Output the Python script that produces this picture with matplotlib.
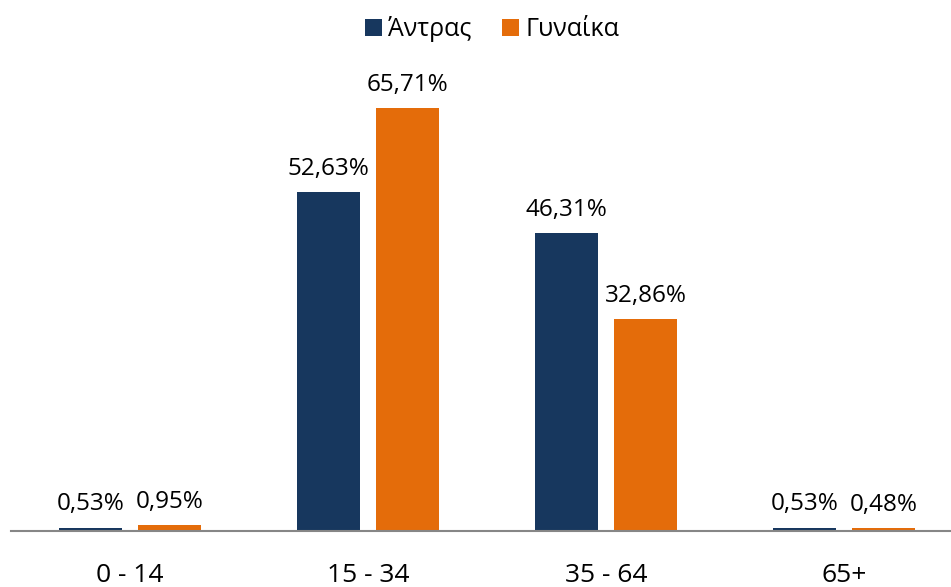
import matplotlib

matplotlib.use("Agg")
from matplotlib import pyplot as plt
import numpy as np

# chart data
age_groups = ["0 - 14", "15 - 34", "35 - 64", "65+"]
men = [0.53, 52.63, 46.31, 0.53]
women = [0.95, 65.71, 32.86, 0.48]
series_names = ["Άντρας", "Γυναίκα"]

NAVY = "#17375E"
ORANGE = "#E46C0A"

plt.rcParams["font.family"] = ["Open Sans", "DejaVu Sans"]

fig = plt.figure(figsize=(9.51, 5.87), dpi=100)
ax = fig.add_axes([11 / 951, 56 / 587, 952 / 951, 451 / 587])

x = np.arange(len(age_groups))
width = 0.265
offset = 0.166

b1 = ax.bar(x - offset, men, width, color=NAVY, label=series_names[0])
b2 = ax.bar(x + offset, women, width, color=ORANGE, label=series_names[1])

for bars, vals in ((b1, men), (b2, women)):
    for rect, v in zip(bars, vals):
        ax.annotate("{:.2f}%".format(v).replace(".", ","),
                    (rect.get_x() + rect.get_width() / 2, rect.get_height()),
                    xytext=(0, 8), textcoords="offset points",
                    ha="center", va="bottom", fontsize=17.5, color="#000000")

ax.set_xlim(-0.5, 3.5)
ax.set_ylim(0, 70)
ax.set_xticks(x)
ax.set_xticklabels(age_groups, fontsize=19)
ax.tick_params(axis="x", length=0, pad=23)
ax.set_yticks([])
for side in ("top", "right", "left"):
    ax.spines[side].set_visible(False)
ax.spines["bottom"].set_color("#868686")
ax.spines["bottom"].set_linewidth(1.5)

fig.legend(loc="center", bbox_to_anchor=(492 / 951, 1 - 29 / 587), ncol=2,
           frameon=False, fontsize=18, handlelength=0.7, handleheight=0.7,
           handletextpad=0.25, columnspacing=1.2)

plt.savefig("out.png", dpi=100)
